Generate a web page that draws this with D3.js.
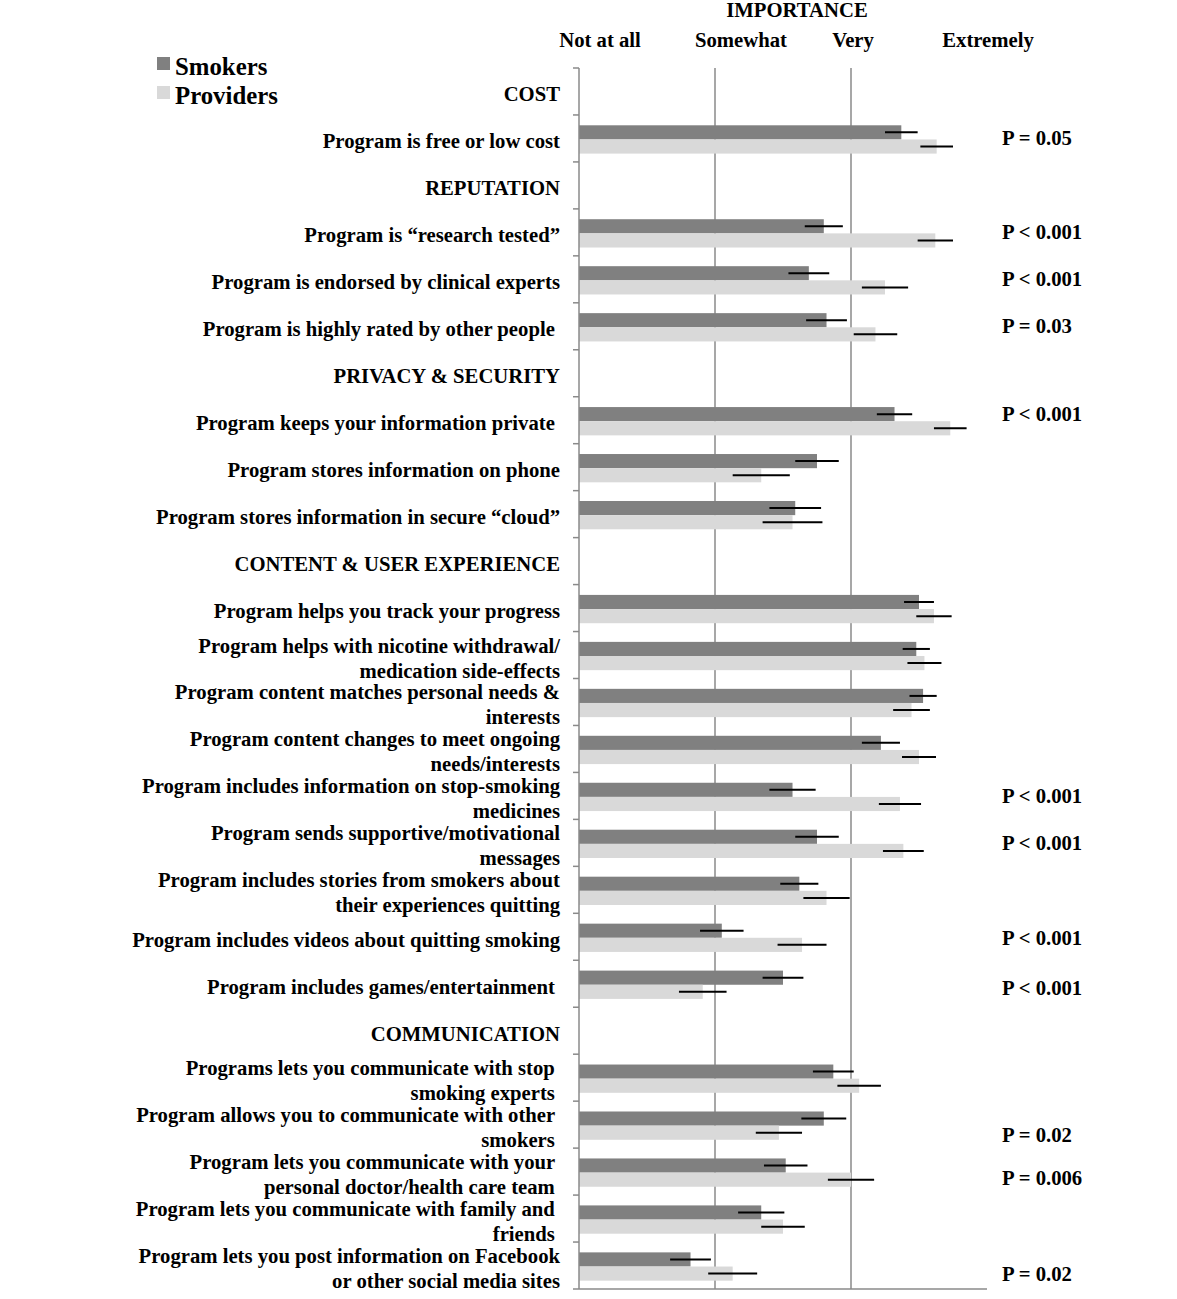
<!DOCTYPE html>
<html lang="en">

<head>
	<meta charset="utf-8">
	<title>Importance of app features - smokers vs providers</title>
	<script src="https://d3js.org/d3.v7.js"></script>
	<style>
		body { margin: 0; background: #fff; }
		text { font-family: "Liberation Serif", "Times New Roman", serif; font-weight: bold; fill: #000; white-space: pre; }
	</style>
</head>

<body>
	<div id="chart"></div>

	<script>
		// section headers (rows with no bars)
		const sections = ["COST", "REPUTATION", "PRIVACY & SECURITY", "CONTENT & USER EXPERIENCE", "COMMUNICATION"];

		// features, "|" splits a label onto two lines
		const features = [
			"Program is free or low cost",
			"Program is \u201cresearch tested\u201d",
			"Program is endorsed by clinical experts",
			"Program is highly rated by other people ",
			"Program keeps your information private ",
			"Program stores information on phone",
			"Program stores information in secure \u201ccloud\u201d",
			"Program helps you track your progress",
			"Program helps with nicotine withdrawal/|medication side-effects",
			"Program content matches personal needs &|interests",
			"Program content changes to meet ongoing|needs/interests",
			"Program includes information on stop-smoking|medicines",
			"Program sends supportive/motivational|messages",
			"Program includes stories from smokers about|their experiences quitting",
			"Program includes videos about quitting smoking",
			"Program includes games/entertainment ",
			"Programs lets you communicate with stop |smoking experts ",
			"Program allows you to communicate with other |smokers ",
			"Program lets you communicate with your |personal doctor/health care team ",
			"Program lets you communicate with family and |friends ",
			"Program lets you post information on Facebook|or other social media sites"
		];
		// which section each feature belongs to
		const featureSection = [0, 1, 1, 1, 2, 2, 2, 3, 3, 3, 3, 3, 3, 3, 3, 3, 4, 4, 4, 4, 4];

		// mean importance (1 = not at all ... 4 = extremely) and error half-widths
		const smokers = [3.37, 2.80, 2.69, 2.82, 3.32, 2.75, 2.59, 3.50, 3.48, 3.53, 3.22, 2.57, 2.75, 2.62, 2.05, 2.50, 2.87, 2.80, 2.52, 2.34, 1.82];
		const smokersErr = [0.12, 0.14, 0.15, 0.15, 0.13, 0.16, 0.19, 0.11, 0.10, 0.10, 0.14, 0.17, 0.16, 0.14, 0.16, 0.15, 0.15, 0.165, 0.16, 0.17, 0.15];
		const providers = [3.63, 3.62, 3.25, 3.18, 3.73, 2.34, 2.57, 3.61, 3.54, 3.445, 3.50, 3.36, 3.385, 2.82, 2.64, 1.91, 3.06, 2.47, 3.00, 2.50, 2.13];
		const providersErr = [0.12, 0.13, 0.17, 0.16, 0.12, 0.21, 0.22, 0.13, 0.125, 0.135, 0.125, 0.155, 0.15, 0.17, 0.18, 0.175, 0.16, 0.17, 0.17, 0.16, 0.18];
		const pValues = ["P = 0.05", "P < 0.001", "P < 0.001", "P = 0.03", "P < 0.001", "", "", "", "", "", "", "P < 0.001", "P < 0.001", "", "P < 0.001", "P < 0.001", "", "P = 0.02", "P = 0.006", "", "P = 0.02"];

		const levels = [1, 2, 3, 4];
		const levelLabels = ["Not at all", "Somewhat", "Very", "Extremely"];
		const seriesNames = ["Smokers", "Providers"];
		const colors = ["#808080", "#d9d9d9"];

		// layout nudges for the p-value text (px, vertical), as placed in the original
		const pNudge = [0, 0, 0, 0, -6, 0, 0, 0, 0, 0, 0, 0, 0, 0, 1, 4, 0, 10, 6, 0, 8];

		// row order: each section followed by its features
		const rows = [];
		sections.forEach(function (s, si) {
			rows.push({ key: s, section: true });
			features.forEach(function (f, i) {
				if (featureSection[i] == si) rows.push({ key: f, section: false, i: i });
			});
		});

		const W = 1177, H = 1299;
		const FS = 20.7;
		const svg = d3.select("#chart").append("svg")
			.attr("width", W).attr("height", H);

		const x = d3.scaleLinear().domain([1, 4]).range([579, 987]);
		const y = d3.scaleBand().domain(rows.map(d => d.key)).range([68, 1289]);
		const sub = d3.scaleBand().domain(seriesNames).range([1, y.bandwidth() + 1]).paddingOuter(0.66);

		// gridlines
		svg.selectAll(".grid")
			.data([2, 3])
			.join("line")
			.attr("x1", d => x(d)).attr("x2", d => x(d))
			.attr("y1", y.range()[0]).attr("y2", y.range()[1])
			.attr("stroke", "#8a8a8a").attr("stroke-width", 1.5);

		// bars
		const rowG = svg.selectAll(".row")
			.data(rows.filter(d => !d.section))
			.join("g")
			.attr("transform", d => `translate(0,${y(d.key)})`);

		const vals = [smokers, providers], errs = [smokersErr, providersErr];
		seriesNames.forEach(function (s, k) {
			rowG.append("rect")
				.attr("x", x(1))
				.attr("y", sub(s))
				.attr("width", d => x(vals[k][d.i]) - x(1))
				.attr("height", sub.bandwidth())
				.attr("fill", colors[k]);
			rowG.append("line")
				.attr("x1", d => x(vals[k][d.i] - errs[k][d.i]))
				.attr("x2", d => x(vals[k][d.i] + errs[k][d.i]))
				.attr("y1", sub(s) + sub.bandwidth() / 2)
				.attr("y2", sub(s) + sub.bandwidth() / 2)
				.attr("stroke", "#000").attr("stroke-width", 2);
		});

		// left axis with ticks at row boundaries
		const axisG = svg.append("g").attr("stroke", "#8a8a8a").attr("stroke-width", 1.5);
		axisG.append("line")
			.attr("x1", x(1)).attr("x2", x(1))
			.attr("y1", y.range()[0]).attr("y2", y.range()[1]);
		axisG.selectAll(".tick")
			.data(rows.map(d => y(d.key)).concat([y.range()[1]]))
			.join("line")
			.attr("x1", x(1) - 6).attr("x2", x(1))
			.attr("y1", d => d).attr("y2", d => d);
		axisG.append("line")
			.attr("x1", x(1)).attr("x2", x(4))
			.attr("y1", y.range()[1]).attr("y2", y.range()[1]);

		// row labels
		const labG = svg.selectAll(".lab")
			.data(rows)
			.join("text")
			.attr("text-anchor", "end")
			.attr("font-size", FS)
			.attr("x", 560)
			.attr("y", d => y(d.key) + y.bandwidth() / 2 + 10);
		labG.each(function (d) {
			const parts = d.key.split("|");
			const t = d3.select(this);
			if (parts.length == 1) { t.text(parts[0]); return; }
			t.selectAll("tspan").data(parts).join("tspan")
				.attr("x", 560)
				.attr("dy", (p, j) => j == 0 ? -12.5 : 25)
				.text(p => p);
		});

		// p-values
		svg.selectAll(".pval")
			.data(rows.filter(d => !d.section && pValues[d.i]))
			.join("text")
			.attr("font-size", FS)
			.attr("x", 1002)
			.attr("y", d => y(d.key) + y.bandwidth() / 2 + 7 + pNudge[d.i])
			.text(d => pValues[d.i]);

		// top scale labels
		const labelShift = [21, 26, 2, 1];
		svg.selectAll(".lvl")
			.data(levels)
			.join("text")
			.attr("text-anchor", "middle")
			.attr("font-size", FS)
			.attr("x", (d, i) => x(d) + labelShift[i])
			.attr("y", 47)
			.text((d, i) => levelLabels[i]);
		svg.append("text")
			.attr("text-anchor", "middle")
			.attr("font-size", FS)
			.attr("x", 797).attr("y", 17)
			.text("IMPORTANCE");

		// legend
		const leg = svg.selectAll(".leg")
			.data(seriesNames)
			.join("g")
			.attr("transform", (d, i) => `translate(157,${57 + i * 29})`);
		leg.append("rect").attr("width", 13).attr("height", 13).attr("fill", (d, i) => colors[i]);
		leg.append("text").attr("x", 18).attr("y", 18).attr("font-size", 24.8).text(d => d);
	</script>

</body>

</html>
